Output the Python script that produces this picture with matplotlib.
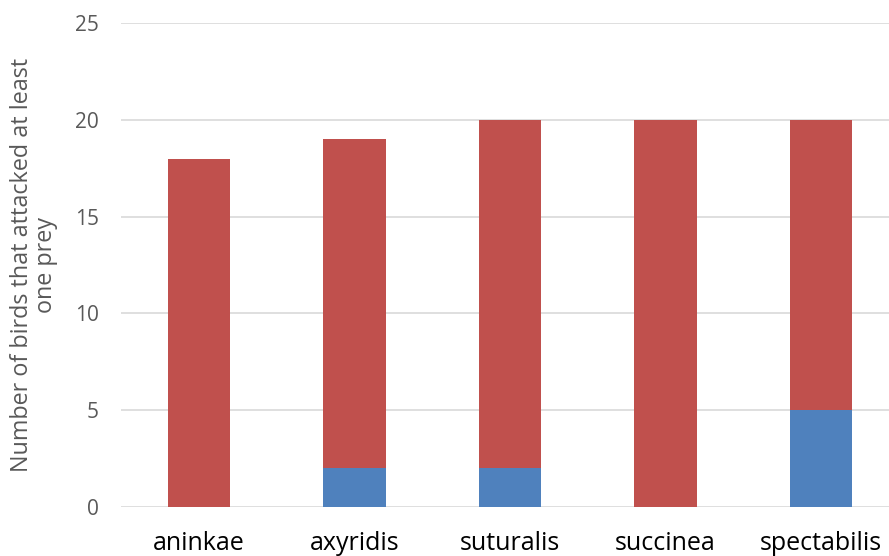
import matplotlib.pyplot as plt
import numpy as np

species = ["aninkae", "axyridis", "suturalis", "succinea", "spectabilis"]
blue_vals = [0, 2, 2, 0, 5]
red_vals = [18, 17, 18, 20, 15]

plt.rcParams['font.family'] = ['Open Sans', 'DejaVu Sans']

fig = plt.figure(figsize=(8.89, 5.56), dpi=100)
ax = fig.add_axes([0.1364, 0.0881, 0.8746, 0.8705])

x = np.arange(len(species))
ax.bar(x, blue_vals, width=0.4, color='#4F81BD', zorder=3)
ax.bar(x, red_vals, width=0.4, bottom=blue_vals, color='#C0504D', zorder=3)

ax.set_xlim(-0.5, len(species) - 0.5)
ax.set_ylim(0, 25)
ax.set_yticks(range(0, 26, 5))
ax.grid(axis='y', color='#D9D9D9', linewidth=1.2, zorder=0)
ax.set_axisbelow(True)
for s in ax.spines.values():
    s.set_visible(False)
ax.tick_params(length=0)
ax.tick_params(axis='y', labelsize=15, labelcolor='#595959', pad=16)
ax.tick_params(axis='x', labelsize=18, labelcolor='black', pad=17)
ax.set_xticks(x)
ax.set_xticklabels(species)
ax.set_ylabel("Number of birds that attacked at least\none prey", fontsize=16.8,
              color='#595959', linespacing=1.0)
ax.yaxis.set_label_coords(-0.081, 0.5)

fig.savefig("out.png", dpi=100)
